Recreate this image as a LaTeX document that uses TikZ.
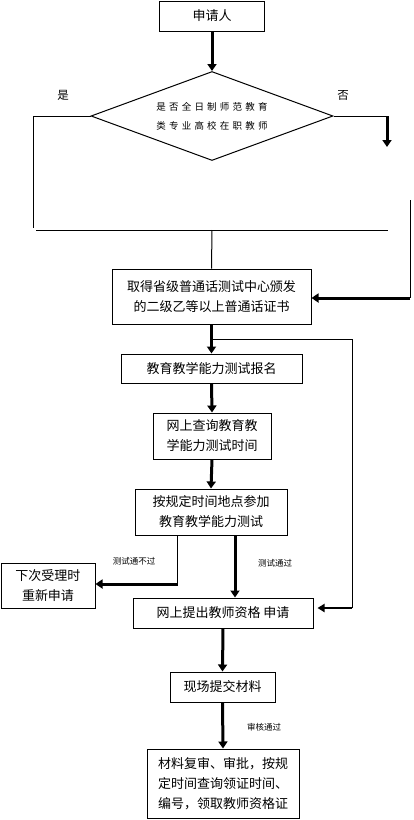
\documentclass[tikz,border=0pt]{standalone}
\usepackage{fontspec}
\setmainfont{Noto Sans CJK SC}
\usetikzlibrary{arrows.meta,shapes.geometric}
\newcommand\lsp{\hspace{3.2pt}}
\begin{document}
\begin{tikzpicture}[x=1pt,y=-1pt,
  box/.style={draw,line width=1pt,inner sep=0pt,align=center,font=\fontsize{13}{20}\selectfont},
  thinline/.style={line width=1pt},
  thickarrow/.style={line width=3pt,-{Triangle[width=9pt,length=7pt]}},
  medarrow/.style={line width=2pt,-{Triangle[width=8pt,length=7pt]}},
  lab/.style={inner sep=0pt,font=\fontsize{8.5}{10}\selectfont},
  yn/.style={inner sep=0pt,font=\fontsize{11.5}{12}\selectfont}]
\useasboundingbox (0,0) rectangle (413,820);
\node[box,minimum width=105pt,minimum height=30pt] (n1) at (212,16) {申请人};
\node[draw,line width=1pt,shape=diamond,aspect=2.72,minimum width=242pt,minimum height=89pt,inner sep=0pt,align=center,font=\fontsize{9.5}{19}\selectfont] (d) at (212,116)
 {是\lsp 否\lsp 全\lsp 日\lsp 制\lsp 师\lsp 范\lsp 教\lsp 育\\类\lsp 专\lsp 业\lsp 高\lsp 校\lsp 在\lsp 职\lsp 教\lsp 师};
\node[yn] (yes) at (63,95) {是};
\node[yn] (no) at (343,95) {否};
\node[box,minimum width=199pt,minimum height=55pt] (n2) at (211.5,296.5) {取得省级普通话测试中心颁发\\的二级乙等以上普通话证书};
\node[box,minimum width=181pt,minimum height=29pt] (n3) at (211.5,368.5) {教育教学能力测试报名};
\node[box,minimum width=118pt,minimum height=46pt] (n4) at (212,436) {网上查询教育教\\学能力测试时间};
\node[box,minimum width=152pt,minimum height=46pt] (n5) at (211,512) {按规定时间地点参加\\教育教学能力测试};
\node[box,minimum width=94pt,minimum height=45pt] (nL) at (48,585.5) {下次受理时\\重新申请};
\node[box,minimum width=180pt,minimum height=30pt] (n6) at (223,613) {网上提出教师资格 申请};
\node[box,minimum width=105pt,minimum height=30pt] (n7) at (222.5,687) {现场提交材料};
\node[box,minimum width=152pt,minimum height=69pt] (n8) at (223,783.5) {材料复审、审批，按规\\定时间查询领证时间、\\编号，领取教师资格证};
\node[lab] (l1) at (134,561) {测试通不过};
\node[lab] (l2) at (275,563) {测试通过};
\node[lab] (l3) at (264,727) {审核通过};
% coordinates
\coordinate (ye) at (33,228);
\coordinate (nc) at (387,116);
\coordinate (ne) at (387,147);
\coordinate (hl) at (36,230);
\coordinate (hr) at (388,230);
\coordinate (hm) at (212,230);
\coordinate (rv) at (410,200);
\coordinate (rc) at (410,298);
\coordinate (s1) at (212,339);
\coordinate (s2) at (352,339);
\coordinate (sc) at (352,608);
\coordinate (fa) at (177,535);
\coordinate (fb) at (177,584);
\coordinate (pa) at (235,535);
% connectors
\draw[thickarrow] (n1.south) -- (d.north);
\draw[thinline] (d.west) -| (ye);
\draw[thinline] (d.east) -- (nc);
\draw[thickarrow] (nc) -- (ne);
\draw[thinline] (hl) -- (hr);
\draw[thinline] (hm) -- (n2.north);
\draw[thinline] (rv) -- (rc);
\draw[thickarrow] (rc) -- (rc -| n2.east);
\draw[thickarrow] (n2.south) -- (n3.north);
\draw[thinline] (s1) -- (s2) -- (sc);
\draw[medarrow] (sc) -- ([xshift=4pt]sc -| n6.east);
\draw[thickarrow] (n3.south) -- (n4.north);
\draw[thickarrow] (n4.south) -- (n5.north);
\draw[thinline] (fa) -- (fb);
\draw[thickarrow] ([xshift=0.5pt]fb) -- (fb -| nL.east);
\draw[thickarrow] (pa) -- (pa |- n6.north);
\draw[thickarrow] (n6.south) -- (n7.north);
\draw[thickarrow] (n7.south) -- (n8.north);
\end{tikzpicture}
\end{document}
